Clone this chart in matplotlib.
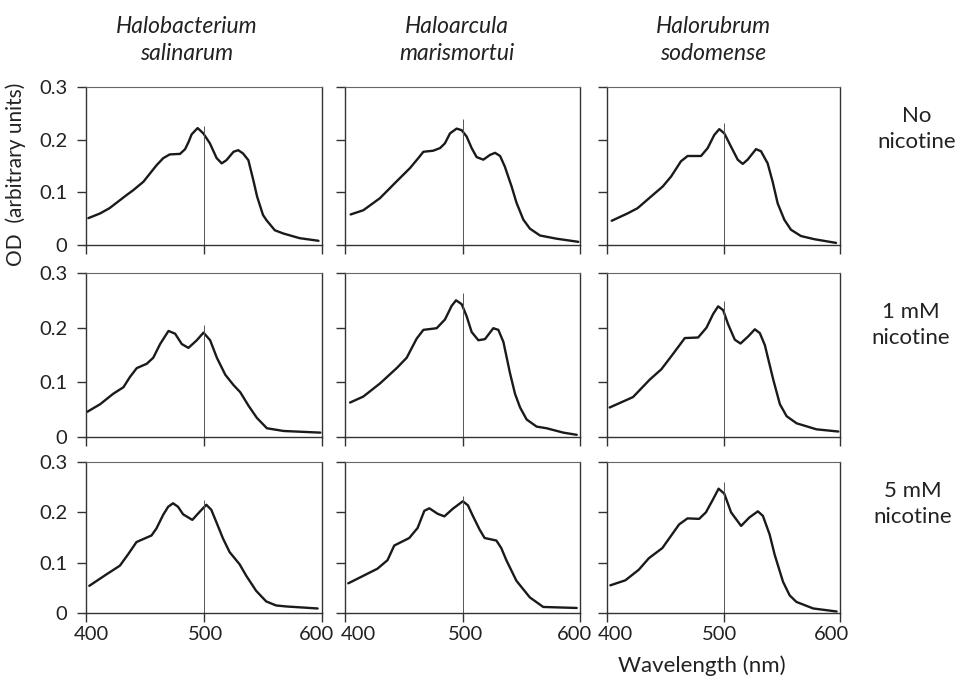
import matplotlib
matplotlib.use("Agg")
import matplotlib.pyplot as plt
from matplotlib.transforms import ScaledTranslation

plt.rcParams['font.family'] = ['Lato', 'DejaVu Sans']

# ---------------- data ----------------
species = ["Halobacterium\nsalinarum", "Haloarcula\nmarismortui", "Halorubrum\nsodomense"]
conditions = ["No\nnicotine", "1 mM\nnicotine", "5 mM\nnicotine"]
x_ticks = [400, 500, 600]
x_tick_labels = ["400", "500", "600"]
y_ticks = [0, 0.1, 0.2, 0.3]
y_tick_labels = ["0", "0.1", "0.2", "0.3"]

# Halobacterium salinarum
wl_hs_0 = [402, 412, 420, 434.5, 440, 448.6, 460, 465.5, 471, 479.7, 484, 487, 489.5, 494.6, 499.4, 505, 510.7,
           515, 519, 525, 529, 533, 537.6, 541.8, 545, 550, 553, 560, 567, 581, 597]
od_hs_0 = [.051, .060, .070, .095, .104, .120, .152, .165, .172, .173, .182, .196, .210, .222, .212, .193, .165,
           .155, .161, .177, .180, .174, .161, .123, .092, .057, .047, .028, .022, .013, .008]
wl_hs_1 = [401, 412, 423, 431.7, 437.3, 443, 451.5, 457, 462.8, 469.9, 475.5, 481.2, 486.8, 493.9, 499.6,
           505.2, 510.9, 518, 525, 530.7, 537.8, 544.8, 553.3, 567.5, 598.6]
od_hs_1 = [.046, .060, .079, .091, .110, .126, .134, .145, .170, .194, .189, .170, .163, .177, .191,
           .177, .145, .114, .095, .082, .057, .035, .016, .011, .008]
wl_hs_2 = [402.8, 417.5, 428.7, 435.8, 442.8, 455.5, 459.7, 465.4, 469.6, 473.8, 478, 482.3, 490.1, 496.3,
           502, 506.2, 510.4, 516.1, 521.7, 530.1, 535.8, 544.2, 552.7, 561.1, 569.6, 596.3]
od_hs_2 = [.054, .077, .094, .117, .141, .154, .168, .195, .211, .218, .211, .196, .185, .201,
           .215, .205, .181, .148, .121, .097, .074, .044, .023, .015, .013, .009]

# Haloarcula marismortui
wl_ha_0 = [404.8, 415.6, 429.8, 444, 455.3, 462.4, 466.7, 475, 480.9, 485, 489.4, 495, 499.3, 503.5, 507.8,
           512, 517.7, 523.4, 527.7, 532, 536, 541.8, 546, 551.8, 557.4, 566, 580, 598.6]
od_ha_0 = [.058, .066, .089, .121, .146, .165, .177, .179, .184, .193, .212, .221, .218, .206, .184,
           .167, .162, .171, .175, .169, .149, .111, .080, .048, .031, .018, .012, .006]
wl_ha_1 = [404.3, 415.6, 429.8, 444, 452.5, 461, 466.7, 478, 485.1, 490.8, 494.5, 499.3, 503.5, 507.8, 513.5,
           519.1, 526.2, 530.5, 534.8, 540.4, 544.7, 549, 554.6, 563.1, 571.6, 585.8, 597.2]
od_ha_1 = [.063, .074, .098, .126, .145, .180, .196, .199, .215, .240, .250, .243, .221, .192, .177,
           .179, .199, .196, .174, .117, .079, .054, .032, .019, .016, .008, .004]
wl_ha_2 = [402.8, 414.8, 427.6, 436.2, 441.9, 454.7, 461.8, 467.5, 471.8, 478.9, 484.6, 491.7, 500.3, 504.6,
           508.8, 514.5, 518.8, 528.8, 533, 537.3, 545.9, 557.3, 568.7, 597.2]
od_ha_2 = [.059, .073, .088, .105, .134, .149, .169, .203, .208, .197, .192, .207, .222, .214,
           .193, .166, .149, .144, .129, .105, .064, .031, .012, .010]

# Halorubrum sodomense
wl_hr_0 = [404, 417.7, 426.3, 437.8, 447.8, 455, 463.5, 469.2, 480.7, 486.4, 492.1, 496.4, 500.7, 506.4, 512.2,
           516.5, 520.7, 527.9, 532.2, 537.9, 542.2, 546.5, 552.2, 557.9, 566.5, 578, 596.6]
od_hr_0 = [.046, .060, .070, .092, .111, .130, .159, .169, .169, .184, .209, .220, .212, .187, .162,
           .154, .162, .182, .178, .155, .120, .079, .048, .029, .017, .011, .004]
wl_hr_1 = [402.3, 422.3, 436.7, 446.7, 456.7, 466.8, 478.2, 485.4, 491.1, 495.4, 499.7, 504, 509.7, 514.6,
           521.2, 526.9, 531.2, 535.5, 542.7, 548.4, 554.2, 562.8, 579.9, 598.6]
od_hr_1 = [.054, .073, .105, .124, .152, .181, .182, .200, .225, .239, .232, .206, .178, .171,
           .184, .197, .190, .168, .105, .060, .038, .025, .014, .010]
wl_hr_2 = [402.9, 415.8, 427.3, 436, 447.5, 461.9, 469.1, 479.1, 484.9, 490.6, 495.8, 500.7, 506.5, 515.1,
           522.3, 529.5, 533.8, 539.6, 543.9, 551.1, 556.8, 562.6, 577, 597.1]
od_hr_2 = [.055, .065, .086, .109, .129, .176, .188, .187, .200, .224, .247, .237, .200, .173,
           .190, .202, .193, .156, .116, .062, .035, .022, .009, .003]

# height of the thin reference line at 500 nm (rows x columns)
marker_top = [[0.226, 0.240, 0.232],
              [0.205, 0.263, 0.249],
              [0.225, 0.232, 0.260]]
marker_wl = 500

curves = [[(wl_hs_0, od_hs_0), (wl_ha_0, od_ha_0), (wl_hr_0, od_hr_0)],
          [(wl_hs_1, od_hs_1), (wl_ha_1, od_ha_1), (wl_hr_1, od_hr_1)],
          [(wl_hs_2, od_hs_2), (wl_ha_2, od_ha_2), (wl_hr_2, od_hr_2)]]

# ---------------- layout ----------------
W, H = 955, 678
fig = plt.figure(figsize=(W / 100, H / 100), dpi=100)
fig.patch.set_facecolor('white')

col_px = [(86, 322), (345, 580), (607, 840)]
row_px = [(87, 245), (273, 437), (462, 613)]
TFS = 14.5
ink = '#1a1a1a'
frame = '#333333'
txt = '#222222'
# horizontal label offsets (px) for 400 / 500 / 600, per column
label_shift_px = [[5, 2, -6], [13, 3, -6], [8, -4, -9]]

for r in range(3):
    for c in range(3):
        x0, x1 = col_px[c]
        y0, y1 = row_px[r]
        ax = fig.add_axes([x0 / W, 1 - y1 / H, (x1 - x0) / W, (y1 - y0) / H])
        wl, od = curves[r][c]
        ax.plot(wl, od, color=ink, lw=1.7, solid_joinstyle='round', solid_capstyle='round')
        ax.vlines(marker_wl, 0, marker_top[r][c], color='#555555', lw=0.7)
        ax.set_xlim(400, 600)
        ax.set_ylim(0, 0.3)
        ax.set_xticks(x_ticks)
        ax.set_yticks(y_ticks)
        ax.tick_params(axis='both', direction='out', length=6.5, width=1.0,
                       color=frame, labelsize=TFS, labelcolor=txt)
        ax.tick_params(axis='y', pad=7)
        ax.tick_params(axis='x', pad=3)
        if c == 0:
            ax.set_yticklabels(y_tick_labels)
        else:
            ax.set_yticklabels([])
        if r == 2:
            ax.set_xticklabels(x_tick_labels)
            for k, tick in enumerate(ax.xaxis.get_major_ticks()):
                lab = tick.label1
                lab.set_transform(lab.get_transform() +
                                  ScaledTranslation(label_shift_px[c][k] / 100, 0, fig.dpi_scale_trans))
        else:
            ax.set_xticklabels([])
        for side in ['left', 'bottom', 'right']:
            ax.spines[side].set_color(frame)
            ax.spines[side].set_linewidth(1.0)
        ax.spines['top'].set_color('#666666')
        ax.spines['top'].set_linewidth(0.8)

# column titles
col_title_x = [187, 457, 713]
for c in range(3):
    fig.text(col_title_x[c] / W, 1 - 40 / H, species[c], ha='center', va='center',
             style='italic', fontsize=16.5, linespacing=1.35, color=txt)

# row labels
row_label_pos = [(917, 129), (911, 325), (913, 504)]
for r in range(3):
    x, y = row_label_pos[r]
    fig.text(x / W, 1 - y / H, conditions[r], ha='center', va='center',
             fontsize=16, linespacing=1.4, color=txt)

fig.text(16 / W, 1 - 174 / H, "OD  (arbitrary units)", rotation=90,
         ha='center', va='center', fontsize=15, color=txt)
fig.text(702 / W, 1 - 666 / H, "Wavelength (nm)", ha='center', va='center',
         fontsize=16, color=txt)

fig.savefig("out.png", dpi=100, facecolor='white')
